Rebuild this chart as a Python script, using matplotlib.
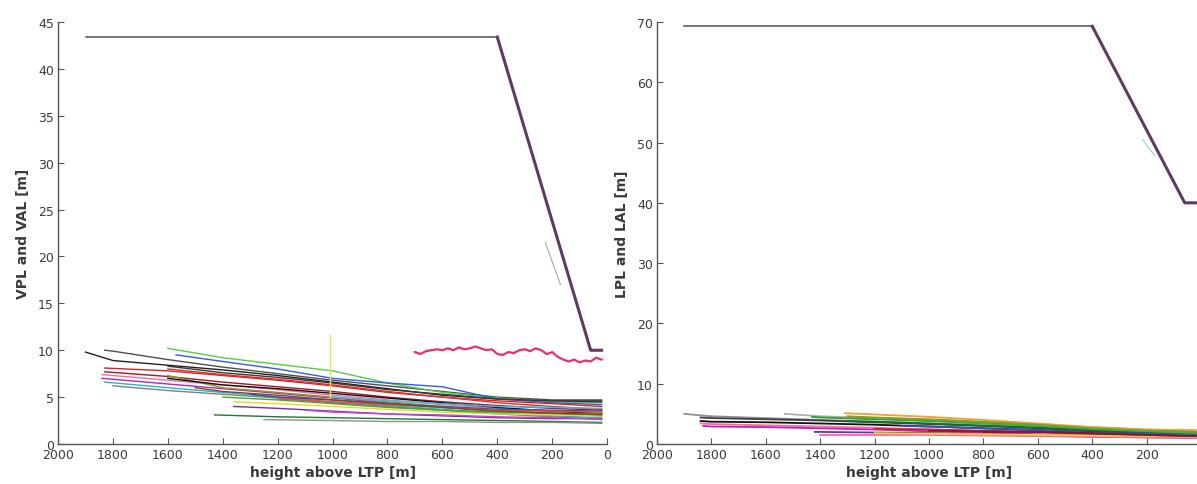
import matplotlib.pyplot as plt
import numpy as np

# heights above LTP where the protection-level traces are sampled [m]
GRID_H = [1800, 1600, 1400, 1200, 1000, 800, 600, 400, 200, 20]

# alert limits (VAL / LAL) versus height
VAL_H = [1900, 400, 60, 20]
VAL_V = [43.4, 43.4, 10.0, 10.0]
LAL_H = [1900, 400, 60, 0]
LAL_V = [69.3, 69.3, 40.0, 40.0]

# vertical protection levels, one trace per approach
VPL_START_H = [1900, 1830, 1600, 1570, 1830, 1830, 1840, 1840, 1830, 1800,
               1600, 1600, 1600, 1600, 1430, 1360, 1360, 1250, 1400, 1300,
               1200, 1100, 1000, 1500]
VPL_START_V = [9.8, 10.0, 10.2, 9.5, 8.1, 7.7, 7.4, 7.0, 6.6, 6.2,
               7.3, 7.0, 8.0, 8.3, 3.1, 4.5, 4.0, 2.6, 5.0, 5.3,
               4.8, 3.6, 5.0, 6.0]
NA = np.nan
VPL_ROWS = [
    [8.9, 8.4, 7.9, 7.3, 6.6, 5.9, 5.2, 4.8, 4.6, 4.6],
    [9.9, 9.0, 8.2, 7.5, 6.8, 6.2, 5.6, 5.0, 4.7, 4.7],
    [NA, NA, 9.2, 8.5, 7.8, 6.5, 5.5, 4.9, 4.5, 4.4],
    [NA, NA, 8.8, 8.0, 7.0, 6.5, 6.1, 4.8, 4.4, 4.2],
    [NA, 7.8, 7.3, 6.8, 6.2, 5.5, 5.0, 4.6, 4.3, 4.0],
    [NA, 7.2, 6.6, 6.1, 5.6, 5.0, 4.5, 4.1, 3.8, 3.6],
    [NA, 6.8, 6.3, 5.8, 5.2, 4.7, 4.2, 3.8, 3.5, 3.3],
    [NA, 6.4, 5.9, 5.4, 4.9, 4.4, 3.9, 3.5, 3.2, 3.0],
    [NA, 6.0, 5.5, 5.0, 4.5, 4.1, 3.7, 3.3, 3.0, 2.8],
    [NA, 5.7, 5.3, 4.9, 4.4, 4.0, 3.6, 3.2, 2.9, 2.6],
    [NA, NA, 6.0, 5.5, 5.0, 4.5, 4.0, 3.6, 3.3, 3.2],
    [NA, NA, 6.3, 5.9, 5.4, 4.9, 4.4, 3.9, 3.5, 3.2],
    [NA, NA, 7.4, 6.9, 6.3, 5.6, 5.0, 4.4, 4.0, 3.7],
    [NA, NA, 7.6, 7.1, 6.5, 5.8, 5.3, 4.8, 4.6, 4.5],
    [NA, NA, NA, 2.9, 2.8, 2.7, 2.6, 2.5, 2.4, 2.3],
    [NA, NA, NA, 4.3, 4.0, 3.7, 3.4, 3.2, 3.1, 3.0],
    [NA, NA, NA, 3.8, 3.5, 3.2, 3.0, 2.8, 2.7, 2.7],
    [NA, NA, NA, NA, 2.5, 2.4, 2.4, 2.3, 2.3, 2.2],
    [NA, NA, NA, 4.7, 4.3, 3.9, 3.6, 3.4, 3.3, 3.2],
    [NA, NA, NA, 5.0, 4.7, 4.3, 4.0, 3.7, 3.6, 3.5],
    [NA, NA, NA, NA, 4.5, 4.2, 3.9, 3.6, 3.5, 3.4],
    [NA, NA, NA, NA, 3.4, 3.2, 3.1, 2.9, 2.8, 2.7],
    [NA, NA, NA, NA, NA, 4.6, 4.3, 4.0, 3.9, 3.8],
    [NA, NA, 5.6, 5.2, 4.7, 4.3, 3.9, 3.5, 3.3, 3.1],
]

# the one approach flying well above the others
PINK_H = [700, 680, 660, 640, 620, 600, 580, 560, 540, 520, 500, 480, 460,
          440, 420, 400, 380, 360, 340, 320, 300, 280, 260, 240, 220, 200,
          180, 160, 140, 120, 100, 80, 60, 40, 20]
PINK_V = [9.8, 9.6, 9.9, 10.0, 10.1, 10.0, 10.2, 10.0, 10.3, 10.1, 10.2,
          10.4, 10.2, 10.0, 10.1, 9.6, 9.5, 9.8, 9.7, 10.0, 10.1, 9.9, 10.2,
          10.0, 9.6, 9.8, 9.3, 9.0, 8.8, 9.0, 8.7, 8.9, 8.8, 9.2, 9.0]

# short VPL spike near 1000 m
SPIKE_H = [1010, 1010]
SPIKE_V = [5.0, 11.6]

# short limit branches splitting off the ramps
VAL_BRANCH_H = [225, 170]
VAL_BRANCH_V = [21.5, 17.0]
LAL_BRANCH_H = [215, 170]
LAL_BRANCH_V = [50.5, 47.8]

# lateral protection levels
LPL_START_H = [1900, 1840, 1840, 1840, 1830, 1530, 1430, 1420, 1400, 1310,
               1300, 1300, 1200, 1200, 1100, 1000, 900, 800]
LPL_START_V = [5.0, 4.4, 3.8, 3.4, 3.0, 5.0, 4.5, 2.0, 1.5, 5.1,
               4.6, 3.8, 2.5, 1.8, 3.0, 2.2, 3.6, 2.0]
LPL_ROWS = [
    [4.6, 4.3, 4.0, 3.7, 3.4, 3.1, 2.8, 2.5, 2.2, 2.0],
    [4.3, 4.1, 3.9, 3.6, 3.3, 3.0, 2.7, 2.3, 2.0, 1.8],
    [3.7, 3.6, 3.4, 3.2, 2.9, 2.6, 2.3, 2.0, 1.8, 1.6],
    [3.3, 3.1, 2.9, 2.7, 2.4, 2.1, 1.9, 1.7, 1.5, 1.3],
    [2.9, 2.8, 2.6, 2.4, 2.1, 1.9, 1.6, 1.4, 1.2, 1.1],
    [NA, NA, 4.6, 4.3, 4.0, 3.6, 3.2, 2.8, 2.4, 2.2],
    [NA, NA, 4.4, 4.1, 3.8, 3.4, 3.0, 2.6, 2.2, 2.0],
    [NA, NA, 2.0, 1.9, 1.8, 1.6, 1.4, 1.2, 1.1, 1.0],
    [NA, NA, NA, 1.5, 1.5, 1.4, 1.3, 1.2, 1.1, 1.0],
    [NA, NA, NA, 4.9, 4.5, 4.0, 3.4, 2.8, 2.4, 2.3],
    [NA, NA, NA, 4.4, 4.1, 3.7, 3.2, 2.6, 2.2, 2.0],
    [NA, NA, NA, 3.7, 3.4, 3.0, 2.6, 2.2, 1.9, 1.7],
    [NA, NA, NA, NA, 2.4, 2.2, 2.0, 1.8, 1.6, 1.4],
    [NA, NA, NA, NA, 1.7, 1.6, 1.5, 1.4, 1.3, 1.2],
    [NA, NA, NA, NA, 2.9, 2.6, 2.3, 1.9, 1.7, 1.5],
    [NA, NA, NA, NA, NA, 2.1, 2.0, 1.7, 1.5, 1.3],
    [NA, NA, NA, NA, NA, 3.4, 3.0, 2.5, 2.1, 1.8],
    [NA, NA, NA, NA, NA, NA, 2.0, 1.8, 1.5, 1.3],
]

TRACE_COLORS = ["#202020", "#505050", "#55cc44", "#2f5fe0", "#e02020",
                "#a01830", "#f070a0", "#c020c0", "#20b8c8", "#808080",
                "#8a9a20", "#101010", "#d83030", "#383838", "#1f7a2a",
                "#e8d820", "#7030a0", "#909090", "#30b030", "#3050c0",
                "#ff4040", "#d040d0", "#30c0e0", "#705020"]

LPL_COLORS = ["#909090", "#404040", "#101010", "#f070a0", "#c020c0",
              "#b0b0b0", "#30a030", "#7030a0", "#ff60b0", "#f0a030",
              "#8a9a20", "#1f6a2a", "#d02030", "#e8d820", "#3050c0",
              "#901830", "#40b040", "#801830"]

TEXT_COLOR = "#3a3a3a"


def trace(start_h, start_v, row):
    hs = [start_h] + [h for h, v in zip(GRID_H, row) if not np.isnan(v)]
    vs = [start_v] + [v for v in row if not np.isnan(v)]
    return hs, vs


def plot_limit(ax, hs, vs):
    # flat part is a single grey line, the ramp is several overlaid limits
    ax.plot(hs[:2], vs[:2], color="#505058", lw=1.1)
    for color, lw in (("#d02050", 2.2), ("#3050b0", 1.6), ("#484848", 1.1)):
        ax.plot(hs[1:], vs[1:], color=color, lw=lw)


def style_axes(ax, ylabel, xticks, ylim, yticks):
    ax.set_xlim(2000, 0)
    ax.set_ylim(*ylim)
    ax.set_xticks(xticks)
    ax.set_yticks(yticks)
    for side in ("top", "right"):
        ax.spines[side].set_visible(False)
    for side in ("left", "bottom"):
        ax.spines[side].set_color("#555555")
        ax.spines[side].set_linewidth(1.0)
    ax.tick_params(direction="in", length=4, width=0.8, color="#555555",
                   labelsize=9, labelcolor=TEXT_COLOR, pad=3)
    ax.set_xlabel("height above LTP [m]", fontsize=10, fontweight="bold",
                  color=TEXT_COLOR, labelpad=3)
    ax.set_ylabel(ylabel, fontsize=10, fontweight="bold", color=TEXT_COLOR,
                  labelpad=6)


fig = plt.figure(figsize=(11.97, 4.85), dpi=100)
ax_v = fig.add_axes([0.0485, 0.0825, 0.4587, 0.870])
ax_l = fig.add_axes([0.5489, 0.0825, 0.4545, 0.870])

# vertical panel
for i, (sh, sv, row) in enumerate(zip(VPL_START_H, VPL_START_V, VPL_ROWS)):
    hs, vs = trace(sh, sv, row)
    ax_v.plot(hs, vs, color=TRACE_COLORS[i % len(TRACE_COLORS)], lw=1.0)
ax_v.plot(SPIKE_H, SPIKE_V, color="#e8e060", lw=1.0)
ax_v.plot(PINK_H, PINK_V, color="#e8306a", lw=1.6)
ax_v.plot(VAL_BRANCH_H, VAL_BRANCH_V, color="#a0b090", lw=0.8)
plot_limit(ax_v, VAL_H, VAL_V)
style_axes(ax_v, "VPL and VAL [m]", range(0, 2001, 200), (0, 45),
           range(0, 46, 5))

# lateral panel
for i, (sh, sv, row) in enumerate(zip(LPL_START_H, LPL_START_V, LPL_ROWS)):
    hs, vs = trace(sh, sv, row)
    ax_l.plot(hs, vs, color=LPL_COLORS[i % len(LPL_COLORS)], lw=1.3)
ax_l.plot(LAL_BRANCH_H, LAL_BRANCH_V, color="#90d0d0", lw=0.8)
plot_limit(ax_l, LAL_H, LAL_V)
style_axes(ax_l, "LPL and LAL [m]", range(200, 2001, 200), (0, 70),
           range(0, 71, 10))

fig.savefig("out.png", dpi=100)
